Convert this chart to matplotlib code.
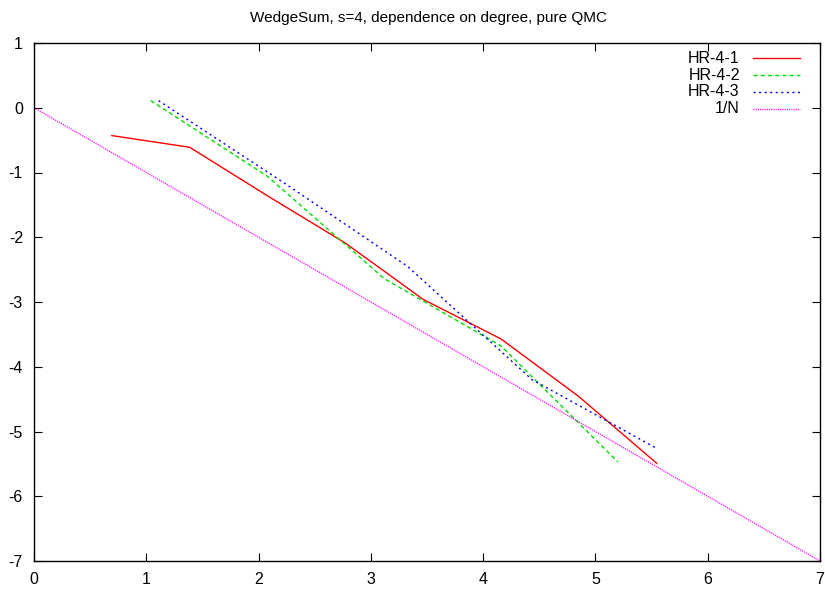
import numpy as np
import matplotlib
matplotlib.use("Agg")
import matplotlib.pyplot as plt
from matplotlib.lines import Line2D

plt.rcParams['font.family'] = ['Liberation Sans', 'DejaVu Sans']
plt.rcParams['axes.unicode_minus'] = False

# log of number of points
x_hr1 = [0.693, 1.386, 2.079, 2.773, 3.466, 4.159, 4.852, 5.545]
y_hr1 = [-0.43, -0.61, -1.36, -2.09, -2.96, -3.57, -4.46, -5.49]

x_hr2 = [1.04, 2.08, 3.12, 4.16, 5.20]
y_hr2 = [0.11, -1.06, -2.64, -3.68, -5.47]

x_hr3 = [1.109, 2.218, 3.327, 4.436, 5.545]
y_hr3 = [0.11, -1.15, -2.45, -4.20, -5.26]

x_ref = [0, 7]
y_ref = [0, -7]

labels = ["HR-4-1", "HR-4-2", "HR-4-3", "1/N"]

fig = plt.figure(figsize=(8.25, 5.89), dpi=100)
ax = fig.add_axes([34/825, 1-561/589, 786/825, 518/589])

styles = [
    dict(color="#ff0000", linestyle="-"),
    dict(color="#00dd00", linestyle=(0, (3, 2.2))),
    dict(color="#0000ff", linestyle=(0, (1.5, 2.5))),
    dict(color="#ff00ff", linestyle=(0, (0.8, 0.8))),
]
series = [(x_hr1, y_hr1), (x_hr2, y_hr2), (x_hr3, y_hr3), (x_ref, y_ref)]

for (xs, ys), st in zip(series, styles):
    ax.plot(xs, ys, lw=1.0, **st)

ax.set_xlim(0, 7)
ax.set_ylim(-7, 1)
ax.set_xticks(range(0, 8))
ax.set_yticks(range(-7, 2))
ax.tick_params(direction="in", length=6, width=0.8, top=True, right=True,
               labelsize=11.5, pad=8)
for sp in ax.spines.values():
    sp.set_linewidth(1.0)

# gnuplot style key, text right aligned
rows = [0.9705, 0.938, 0.906, 0.873]
for lab, st, yy in zip(labels, styles, rows):
    ax.text(0.898, yy, lab, transform=ax.transAxes, ha="right", va="center",
            fontsize=11.5)
    ax.add_line(Line2D([0.915, 0.975], [yy, yy], transform=ax.transAxes,
                       lw=1.0, **st))

fig.text(0.519, 1-18/589, "WedgeSum, s=4, dependence on degree, pure QMC",
         ha="center", va="center", fontsize=11)

fig.savefig("out.png", dpi=100)
